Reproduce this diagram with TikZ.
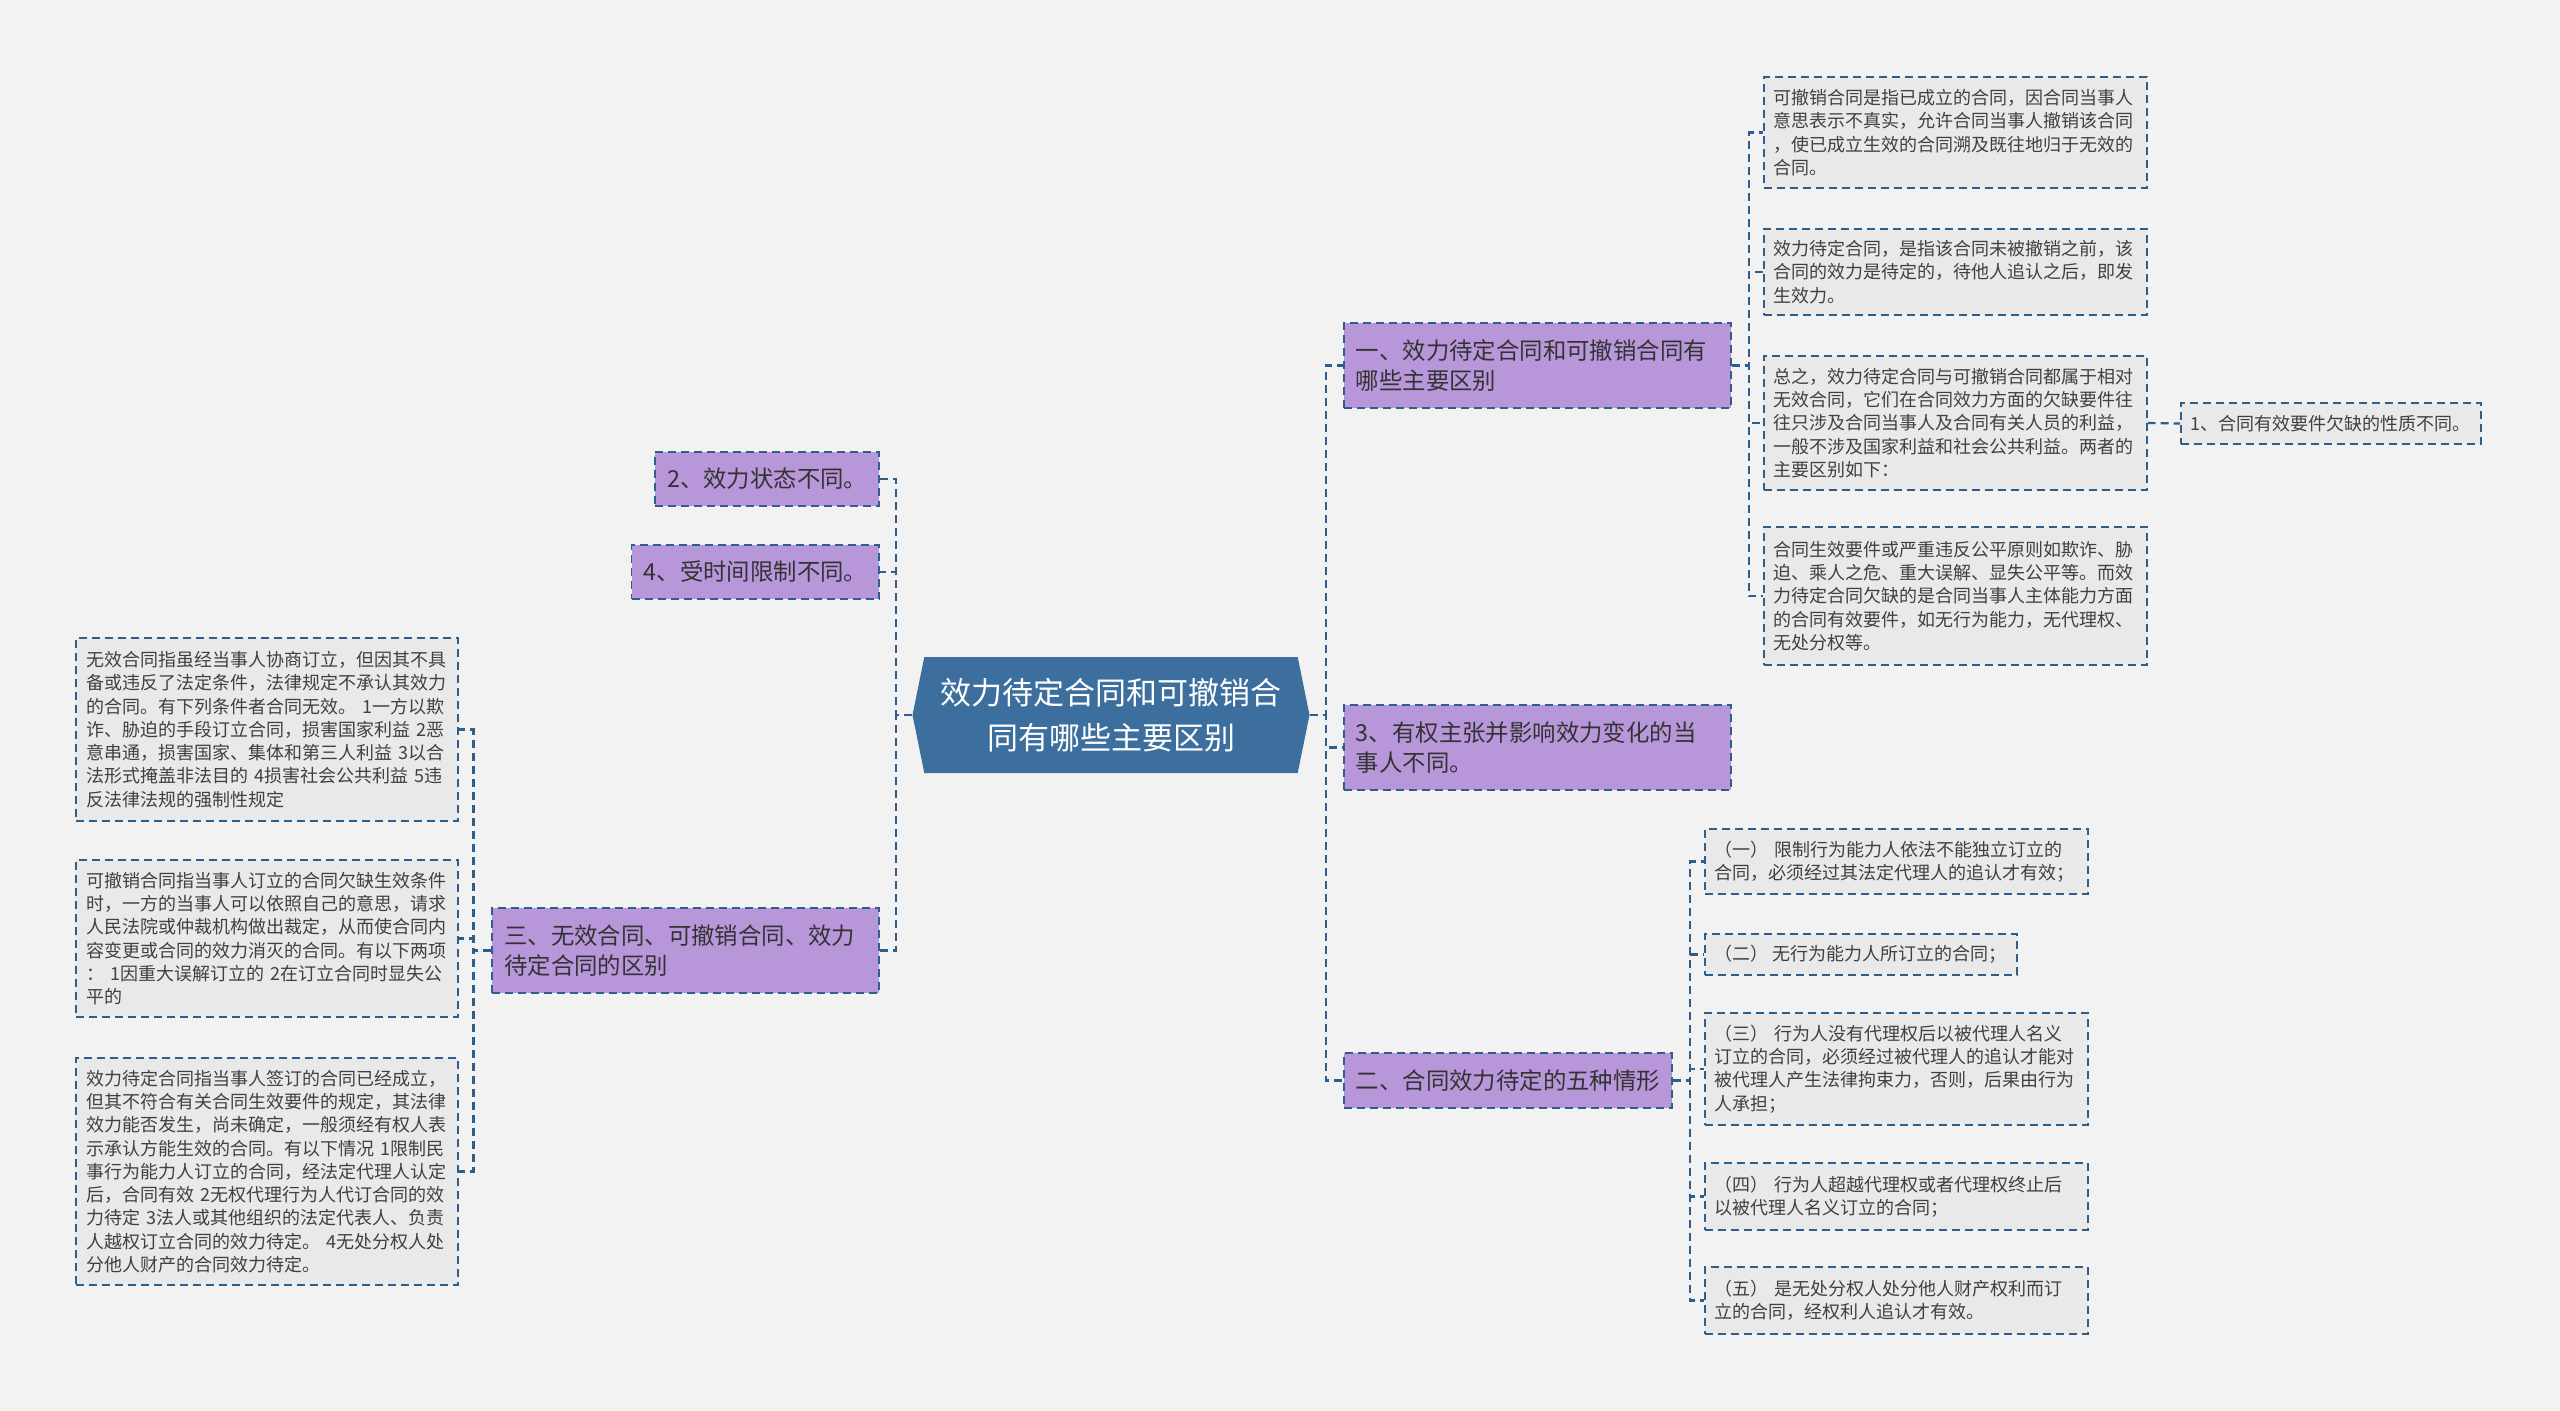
\documentclass[tikz,border=0pt]{standalone}
\usepackage{fontspec}
\newfontfamily\cjk{Noto Sans CJK SC}
\usetikzlibrary{shapes.symbols}
\definecolor{rootblue}{RGB}{60,110,158}
\definecolor{linkblue}{RGB}{46,94,138}
\definecolor{lilac}{RGB}{184,150,218}
\definecolor{leafgray}{RGB}{233,233,233}
\definecolor{paper}{RGB}{242,242,242}
\def\ink{black!80}

\begin{document}
\begin{tikzpicture}[x=1pt,y=-1pt,
  box/.style={draw=linkblue,line width=1.6pt,dash pattern=on 8pt off 5pt,align=left},
  root node/.style={signal,signal to=west and east,signal pointer angle=157,fill=rootblue,text=white,
    minimum width=397pt,minimum height=116pt,align=center,font=\cjk\fontsize{31}{45}\selectfont},
  main node/.style={box,fill=lilac,text=\ink,inner xsep=12pt,font=\cjk\fontsize{23.4}{30}\selectfont},
  leaf node/.style={box,fill=leafgray,text=black!75,inner xsep=10pt,font=\cjk\fontsize{18}{23.3}\selectfont},
  link/.style={draw=linkblue,line width=2.2pt,dash pattern=on 8pt off 5pt},
  elbow/.style={to path={-- ++(#1,0) |- (\tikztotarget)}}]
  \fill[paper] (0,0) rectangle (2560,1411);
  \useasboundingbox (0,0) rectangle (2560,1411);

  % centre
  \node[root node] (root) at (1111,715) {效力待定合同和可撤销合\\同有哪些主要区别};

  % right branch
  \node[main node,anchor=west,text width=363pt,minimum height=85pt] (one) at (1343,365.5) {一、效力待定合同和可撤销合同有\\哪些主要区别};
  \node[main node,anchor=west,text width=363pt,minimum height=85pt] (three) at (1343,747.5) {3、有权主张并影响效力变化的当\\事人不同。};
  \node[main node,anchor=west,minimum height=55pt] (two) at (1343,1080.5) {二、合同效力待定的五种情形};

  \node[leaf node,anchor=west,text width=363pt,minimum height=111pt] (b1) at (1763,132.5) {可撤销合同是指已成立的合同，因合同当事人\\意思表示不真实，允许合同当事人撤销该合同\\，使已成立生效的合同溯及既往地归于无效的\\合同。};
  \node[leaf node,anchor=west,text width=363pt,minimum height=86pt] (b2) at (1763,272) {效力待定合同，是指该合同未被撤销之前，该\\合同的效力是待定的，待他人追认之后，即发\\生效力。};
  \node[leaf node,anchor=west,text width=363pt,minimum height=134pt] (b3) at (1763,423) {总之，效力待定合同与可撤销合同都属于相对\\无效合同，它们在合同效力方面的欠缺要件往\\往只涉及合同当事人及合同有关人员的利益，\\一般不涉及国家利益和社会公共利益。两者的\\主要区别如下：};
  \node[leaf node,anchor=west,text width=363pt,minimum height=138pt] (b4) at (1763,596) {合同生效要件或严重违反公平原则如欺诈、胁\\迫、乘人之危、重大误解、显失公平等。而效\\力待定合同欠缺的是合同当事人主体能力方面\\的合同有效要件，如无行为能力，无代理权、\\无处分权等。};
  \node[leaf node,anchor=west,minimum height=41pt] (b5) at (2180,423.5) {1、合同有效要件欠缺的性质不同。};

  \node[leaf node,anchor=west,text width=363pt,minimum height=65pt] (c1) at (1704,861.5) {（一） 限制行为能力人依法不能独立订立的\\合同，必须经过其法定代理人的追认才有效；};
  \node[leaf node,anchor=west,minimum height=41pt] (c2) at (1704,954.5) {（二） 无行为能力人所订立的合同；};
  \node[leaf node,anchor=west,text width=363pt,minimum height=112pt] (c3) at (1704,1069) {（三） 行为人没有代理权后以被代理人名义\\订立的合同，必须经过被代理人的追认才能对\\被代理人产生法律拘束力，否则，后果由行为\\人承担；};
  \node[leaf node,anchor=west,text width=363pt,minimum height=67pt] (c4) at (1704,1196.5) {（四） 行为人超越代理权或者代理权终止后\\以被代理人名义订立的合同；};
  \node[leaf node,anchor=west,text width=363pt,minimum height=67pt] (c5) at (1704,1300.5) {（五） 是无处分权人处分他人财产权利而订\\立的合同，经权利人追认才有效。};

  % left branch
  \node[main node,anchor=east,minimum height=54pt] (s2) at (880,479) {2、效力状态不同。};
  \node[main node,anchor=east,minimum height=54pt] (s4) at (880,572) {4、受时间限制不同。};
  \node[main node,anchor=east,text width=363pt,minimum height=85pt] (san) at (880,950.5) {三、无效合同、可撤销合同、效力\\待定合同的区别};

  \node[leaf node,anchor=east,text width=362pt,minimum height=183pt] (g1) at (459,729.5) {无效合同指虽经当事人协商订立，但因其不具\\备或违反了法定条件，法律规定不承认其效力\\的合同。有下列条件者合同无效。 1一方以欺\\诈、胁迫的手段订立合同，损害国家利益 2恶\\意串通，损害国家、集体和第三人利益 3以合\\法形式掩盖非法目的 4损害社会公共利益 5违\\反法律法规的强制性规定};
  \node[leaf node,anchor=east,text width=362pt,minimum height=157pt] (g2) at (459,938.5) {可撤销合同指当事人订立的合同欠缺生效条件\\时，一方的当事人可以依照自己的意思，请求\\人民法院或仲裁机构做出裁定，从而使合同内\\容变更或合同的效力消灭的合同。有以下两项\\： 1因重大误解订立的 2在订立合同时显失公\\平的};
  \node[leaf node,anchor=east,text width=362pt,minimum height=227pt] (g3) at (459,1171.5) {效力待定合同指当事人签订的合同已经成立，\\但其不符合有关合同生效要件的规定，其法律\\效力能否发生，尚未确定，一般须经有权人表\\示承认方能生效的合同。有以下情况 1限制民\\事行为能力人订立的合同，经法定代理人认定\\后，合同有效 2无权代理行为人代订合同的效\\力待定 3法人或其他组织的法定代表人、负责\\人越权订立合同的效力待定。 4无处分权人处\\分他人财产的合同效力待定。};

  % connectors
  \path[link]
    (root.east) edge[elbow=16] (one.west)
                edge[elbow=16] (three.west)
                edge[elbow=16] (two.west)
    (root.west) edge[elbow=-16] (s2.east)
                edge[elbow=-16] (s4.east)
                edge[elbow=-16] (san.east)
    (one.east)  edge[elbow=17] (b1.west)
                edge[elbow=17] (b2.west)
                edge[elbow=17] (b3.west)
                edge[elbow=17] (b4.west)
    (two.east)  edge[elbow=17] (c1.west)
                edge[elbow=17] (c2.west)
                edge[elbow=17] (c3.west)
                edge[elbow=17] (c4.west)
                edge[elbow=17] (c5.west)
    (san.west)  edge[elbow=-18] (g1.east)
                edge[elbow=-18] (g2.east)
                edge[elbow=-18] (g3.east)
    (b3.east)   edge (b5.west);
\end{tikzpicture}
\end{document}
